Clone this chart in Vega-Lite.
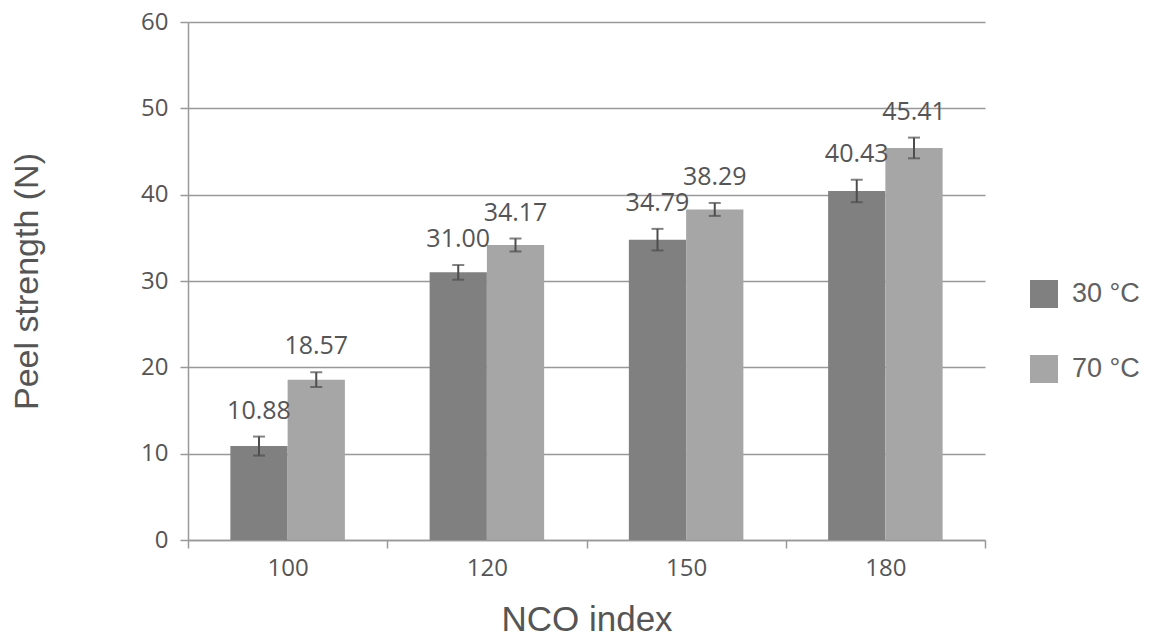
{
  "$schema": "https://vega.github.io/schema/vega-lite/v6.json",
  "width": 797,
  "height": 518,
  "autosize": {"type": "none"},
  "padding": {"left": 188, "top": 22, "right": 164, "bottom": 102},
  "background": "white",
  "data": {"values": [
    {"nco": "100", "temp": "30 °C", "value": 10.88, "lo": 9.78, "hi": 11.98},
    {"nco": "100", "temp": "70 °C", "value": 18.57, "lo": 17.72, "hi": 19.42},
    {"nco": "120", "temp": "30 °C", "value": 31.00, "lo": 30.15, "hi": 31.85},
    {"nco": "120", "temp": "70 °C", "value": 34.17, "lo": 33.42, "hi": 34.92},
    {"nco": "150", "temp": "30 °C", "value": 34.79, "lo": 33.54, "hi": 36.04},
    {"nco": "150", "temp": "70 °C", "value": 38.29, "lo": 37.54, "hi": 39.04},
    {"nco": "180", "temp": "30 °C", "value": 40.43, "lo": 39.13, "hi": 41.73},
    {"nco": "180", "temp": "70 °C", "value": 45.41, "lo": 44.21, "hi": 46.61}
  ]},
  "encoding": {
    "x": {
      "field": "nco", "type": "nominal", "sort": null,
      "scale": {"paddingInner": 0, "paddingOuter": 0},
      "axis": {
        "title": "NCO index", "titleFont": "Liberation Sans", "titleFontSize": 35,
        "titleFontWeight": "normal", "titleColor": "#555555", "titlePadding": 22,
        "labelAngle": 0, "labelFont": "Open Sans", "labelFontSize": 24, "labelColor": "#555555",
        "labelPadding": 8, "tickBand": "extent", "tickSize": 8, "tickColor": "#999999", "tickWidth": 1.5,
        "domainColor": "#999999", "domainWidth": 1.5, "grid": false
      }
    },
    "xOffset": {"field": "temp", "type": "nominal", "scale": {"paddingInner": 0, "paddingOuter": 0.74}},
    "color": {
      "field": "temp", "type": "nominal",
      "scale": {"domain": ["30 °C", "70 °C"], "range": ["#808080", "#a6a6a6"]},
      "legend": {
        "title": null, "orient": "none", "legendX": 842, "legendY": 258,
        "symbolType": "square", "symbolSize": 784, "symbolStrokeWidth": 0,
        "labelFont": "Liberation Sans", "labelFontSize": 27, "labelColor": "#606060",
        "labelOffset": 14, "rowPadding": 47
      }
    }
  },
  "layer": [
    {
      "mark": {"type": "bar"},
      "encoding": {
        "y": {
          "field": "value", "type": "quantitative",
          "scale": {"domain": [0, 60]},
          "axis": {
            "title": "Peel strength (N)", "titleFont": "Liberation Sans", "titleFontSize": 34,
            "titleFontWeight": "normal", "titleColor": "#555555", "titlePadding": 96,
            "values": [0, 10, 20, 30, 40, 50, 60],
            "labelFont": "Open Sans", "labelFontSize": 24, "labelColor": "#555555", "labelPadding": 12,
            "tickSize": 8, "tickColor": "#999999", "tickWidth": 1.5, "domainColor": "#999999", "domainWidth": 1.5,
            "gridColor": "#999999", "gridWidth": 1.5
          }
        }
      }
    },
    {
      "mark": {"type": "rule", "strokeWidth": 2},
      "encoding": {"y": {"field": "lo", "type": "quantitative"}, "y2": {"field": "hi"}, "color": {"value": "#4d4d4d"}}
    },
    {
      "mark": {"type": "tick", "size": 12, "thickness": 2, "orient": "horizontal"},
      "encoding": {"y": {"field": "lo", "type": "quantitative"}, "color": {"value": "#4d4d4d"}}
    },
    {
      "mark": {"type": "tick", "size": 12, "thickness": 2, "orient": "horizontal"},
      "encoding": {"y": {"field": "hi", "type": "quantitative"}, "color": {"value": "#4d4d4d"}}
    },
    {
      "mark": {"type": "text", "baseline": "bottom", "dy": -13, "font": "Open Sans", "fontSize": 25},
      "encoding": {
        "y": {"field": "hi", "type": "quantitative"},
        "text": {"field": "value", "type": "quantitative", "format": ".2f"},
        "color": {"value": "#555555"}
      }
    }
  ],
  "config": {"view": {"stroke": null}}
}
